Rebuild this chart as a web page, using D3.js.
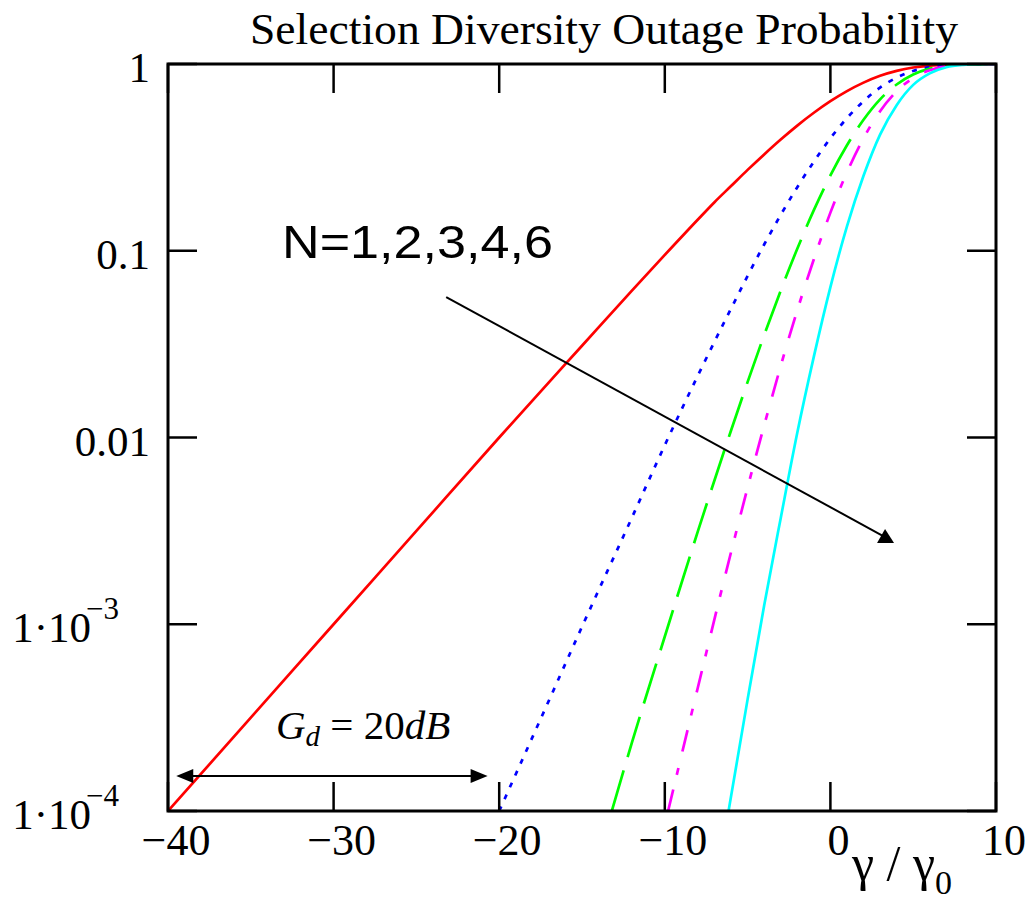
<!DOCTYPE html>
<html>
<head>
<meta charset="UTF-8">
<title>Selection Diversity Outage Probability</title>
<script src="https://cdn.jsdelivr.net/npm/d3@7"></script>
<style>
  body { margin: 0; background: #fff; }
</style>
</head>
<body>
<script>
// axis ticks
var xTicks = [-40, -30, -20, -10, 0, 10];
var xLabels = ["\u221240", "\u221230", "\u221220", "\u221210", "0", "10"];
var yTicks = [1, 0.1, 0.01, 1e-3, 1e-4];
var yLabels = ["1", "0.1", "0.01", "1\u00b710", "1\u00b710"];
var yExps = ["", "", "", "\u22123", "\u22124"];

// outage probability, per diversity order N
var x1 = [-40, -35, -30, -25, -20, -15, -12, -10, -8, -7, -6, -5, -4, -3, -2, -1, 0, 1, 2, 3, 4, 5, 6, 7, 8, 9, 10];
var p1 = [1e-4, 3.16e-4, 1e-3, 3.16e-3, 0.01, 0.031, 0.061, 0.095, 0.147, 0.182, 0.222, 0.271, 0.328, 0.394, 0.468, 0.548, 0.632, 0.716, 0.795, 0.865, 0.919, 0.958, 0.981, 0.993, 0.998, 0.9997, 1];

var x2 = [-20, -17, -15, -12, -10, -8, -6, -4, -2, -1, 0, 1, 2, 3, 4, 5, 6, 7, 8, 9, 10];
var p2 = [1e-4, 3.9e-4, 9.7e-4, 3.7e-3, 9.1e-3, 0.0215, 0.049, 0.108, 0.219, 0.300, 0.400, 0.513, 0.632, 0.748, 0.845, 0.918, 0.963, 0.987, 0.996, 0.9994, 1];

var x3 = [-13.2, -12, -10, -8, -6, -4, -2, -1, 0, 1, 2, 3, 4, 5, 6, 7, 8, 9, 10];
var p3 = [1e-4, 2.3e-4, 8.6e-4, 3.15e-3, 0.0109, 0.0353, 0.1025, 0.165, 0.253, 0.367, 0.503, 0.647, 0.777, 0.879, 0.944, 0.980, 0.995, 0.9991, 1];

var x4 = [-9.8, -8, -6, -4, -2, -1, 0, 1, 2, 3, 4, 5, 6, 7, 8, 9, 10];
var p4 = [1e-4, 4.6e-4, 2.43e-3, 0.0116, 0.048, 0.090, 0.160, 0.263, 0.400, 0.559, 0.714, 0.842, 0.926, 0.974, 0.993, 0.9988, 1];

var x6 = [-6.15, -5, -4, -3, -2, -1, 0, 1, 2, 3, 4, 5, 6, 7, 8, 9, 10];
var p6 = [1e-4, 3.96e-4, 1.26e-3, 3.7e-3, 0.0106, 0.0271, 0.0639, 0.135, 0.252, 0.419, 0.602, 0.773, 0.891, 0.961, 0.989, 0.998, 1];

var seriesX = [x1, x2, x3, x4, x6];
var seriesP = [p1, p2, p3, p4, p6];
var colors = ["#ff0000", "#0000ff", "#00ff00", "#ff00ff", "#00ffff"];
var dashes = [null, "5,8", "42,14", "22,15,7,17", null];

var W = 1032, H = 904;
var serif = "'Liberation Serif', 'Times New Roman', serif";

var xScale = d3.scaleLinear().domain([-40, 10]).range([168, 996]);
var yScale = d3.scaleLog().domain([1e-4, 1]).range([811, 64]);

var svg = d3.select("body").append("svg")
    .attr("width", W)
    .attr("height", H);

svg.append("defs").append("clipPath").attr("id", "plot")
    .append("rect")
    .attr("x", xScale(-40)).attr("y", yScale(1))
    .attr("width", xScale(10) - xScale(-40))
    .attr("height", yScale(1e-4) - yScale(1));

// curves
var line = d3.line()
    .x(function(d) { return xScale(d[0]); })
    .y(function(d) { return yScale(d[1]); })
    .curve(d3.curveMonotoneX);

var curves = svg.append("g").attr("clip-path", "url(#plot)");
seriesX.forEach(function(xs, i) {
    var pts = xs.map(function(v, j) { return [v, seriesP[i][j]]; });
    curves.append("path")
        .attr("d", line(pts))
        .attr("fill", "none")
        .attr("stroke", colors[i])
        .attr("stroke-width", 2.7)
        .attr("stroke-dasharray", dashes[i]);
});

// inner ticks on all four sides
var tl = 29;
var ticks = svg.append("g").attr("stroke", "#000").attr("stroke-width", 2.5);
xTicks.forEach(function(t) {
    ticks.append("line").attr("x1", xScale(t)).attr("x2", xScale(t))
        .attr("y1", yScale(1e-4)).attr("y2", yScale(1e-4) - tl);
    ticks.append("line").attr("x1", xScale(t)).attr("x2", xScale(t))
        .attr("y1", yScale(1)).attr("y2", yScale(1) + tl);
});
yTicks.forEach(function(t) {
    ticks.append("line").attr("x1", xScale(-40)).attr("x2", xScale(-40) + tl)
        .attr("y1", yScale(t)).attr("y2", yScale(t));
    ticks.append("line").attr("x1", xScale(10)).attr("x2", xScale(10) - tl)
        .attr("y1", yScale(t)).attr("y2", yScale(t));
});

// frame
svg.append("rect")
    .attr("x", xScale(-40)).attr("y", yScale(1))
    .attr("width", xScale(10) - xScale(-40))
    .attr("height", yScale(1e-4) - yScale(1))
    .attr("fill", "none")
    .attr("stroke", "#000")
    .attr("stroke-width", 3);

// tick labels
svg.append("g").selectAll("text")
    .data(xTicks)
    .enter()
    .append("text")
    .attr("x", function(d) { return xScale(d) + 8; })
    .attr("y", yScale(1e-4) + 44)
    .attr("text-anchor", "middle")
    .attr("font-family", serif)
    .attr("font-size", 44)
    .text(function(d, i) { return xLabels[i]; });

var yl = svg.append("g");
yTicks.forEach(function(t, i) {
    var txt = yl.append("text")
        .attr("x", yExps[i] ? 119 : 150)
        .attr("y", yScale(t) + 18)
        .attr("text-anchor", "end")
        .attr("font-family", serif)
        .attr("font-size", 43);
    txt.append("tspan").text(yLabels[i]);
    if (yExps[i]) {
        txt.append("tspan").attr("dy", -23).attr("dx", -5)
            .attr("font-size", 31).text(yExps[i]);
    }
});

// title
svg.append("text")
    .attr("x", 250).attr("y", 44)
    .attr("font-family", serif)
    .attr("font-size", 45)
    .attr("textLength", 708)
    .attr("lengthAdjust", "spacingAndGlyphs")
    .text("Selection Diversity Outage Probability");

// x axis label
var xl = svg.append("text")
    .attr("x", 852).attr("y", 880)
    .attr("font-family", serif)
    .attr("font-size", 50);
xl.append("tspan").text("\u03b3 / \u03b3");
xl.append("tspan").attr("dy", 14).attr("font-size", 34).text("0");

// N arrow
var a0 = [xScale(-23.2), yScale(0.0565)];
var a1 = [xScale(3.3), yScale(0.00293)];
svg.append("line")
    .attr("x1", a0[0]).attr("y1", a0[1])
    .attr("x2", a1[0]).attr("y2", a1[1])
    .attr("stroke", "#000").attr("stroke-width", 2);
svg.append("path")
    .attr("d", "M" + (a1[0] - 8) + "," + (a1[1] + 6) + "L" + (a1[0] + 9) + "," + (a1[1] + 6) +
        "L" + (a1[0]) + "," + (a1[1] - 8) + "Z")
    .attr("fill", "#000");

svg.append("text")
    .attr("x", 282).attr("y", 258)
    .attr("font-family", "'Liberation Sans', Arial, sans-serif")
    .attr("font-size", 46)
    .attr("textLength", 271)
    .attr("lengthAdjust", "spacingAndGlyphs")
    .text("N=1,2,3,4,6");

// diversity gain arrow
var gy = yScale(1.54e-4);
var gx0 = xScale(-39.5), gx1 = xScale(-20.7);
svg.append("line")
    .attr("x1", gx0 + 10).attr("x2", gx1 - 10)
    .attr("y1", gy).attr("y2", gy)
    .attr("stroke", "#000").attr("stroke-width", 2);
svg.append("path")
    .attr("d", "M" + gx0 + "," + gy + "L" + (gx0 + 17) + "," + (gy - 7) + "L" + (gx0 + 17) + "," + (gy + 7) + "Z")
    .attr("fill", "#000");
svg.append("path")
    .attr("d", "M" + gx1 + "," + gy + "L" + (gx1 - 17) + "," + (gy - 7) + "L" + (gx1 - 17) + "," + (gy + 7) + "Z")
    .attr("fill", "#000");

var gd = svg.append("text")
    .attr("x", 276).attr("y", 739)
    .attr("font-family", serif)
    .attr("font-size", 41);
gd.append("tspan").attr("font-style", "italic").text("G");
gd.append("tspan").attr("font-style", "italic").attr("font-size", 29).attr("dy", 7).text("d");
gd.append("tspan").attr("dy", -7).text(" = 20");
gd.append("tspan").attr("font-style", "italic").text("dB");
</script>
</body>
</html>
